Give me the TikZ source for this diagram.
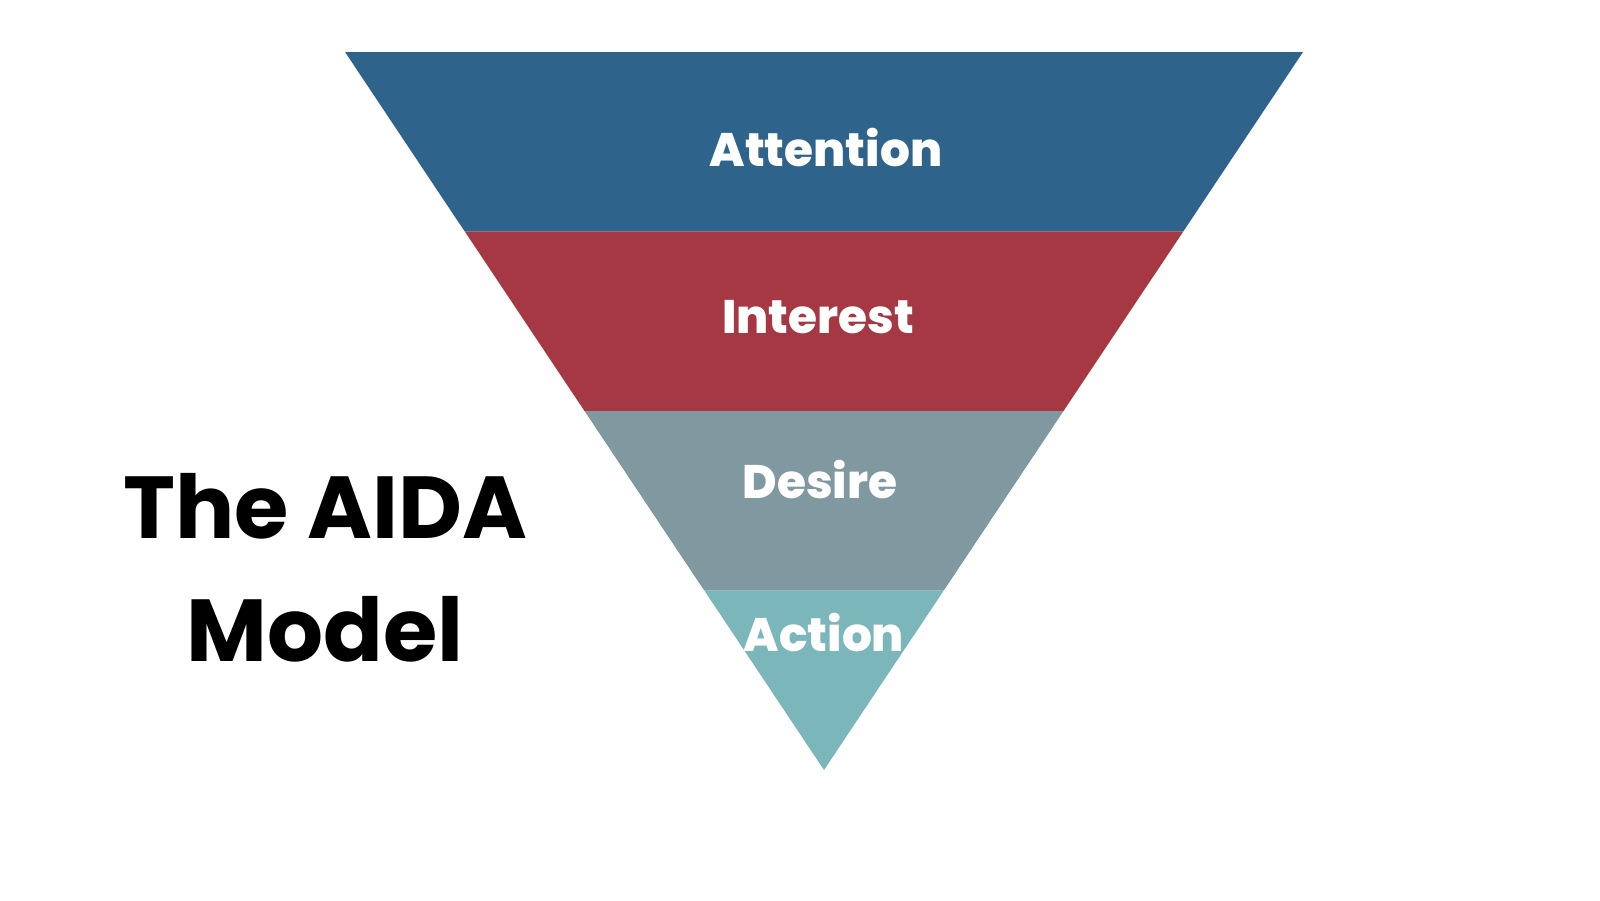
\documentclass[tikz,border=0pt]{standalone}
\usepackage{fontspec}
\setmainfont{Poppins}
\newfontfamily\stagefam{Poppins}[UprightFont=* ExtraBold]
\usetikzlibrary{calc}
\definecolor{attncol}{RGB}{46,100,140}
\definecolor{intcol}{RGB}{166,56,67}
\definecolor{descol}{RGB}{128,152,160}
\definecolor{actcol}{RGB}{123,182,186}
\newcommand{\stagefont}{\stagefam\fontsize{47}{56}\selectfont}
\newcommand{\titlefont}{\fontsize{88}{106}\selectfont\bfseries}

\begin{document}
\begin{tikzpicture}[x=1pt,y=-1pt,
  stage/.style={text=white,font=\stagefont,anchor=base,inner sep=0pt},
  heading/.style={text=black,font=\titlefont,anchor=base,inner sep=0pt}]
\useasboundingbox (0,0) rectangle (1600,900);
% funnel corners
\coordinate (tl) at (345,52);
\coordinate (tr) at (1303,52);
\coordinate (apex) at (824,770);
\foreach \i in {1,2,3}{
  \coordinate (l\i) at ($(tl)!\i/4!(apex)$);
  \coordinate (r\i) at ($(tr)!\i/4!(apex)$);
}
\fill[attncol] (tl)--(tr)--(r1)--(l1)--cycle;
\fill[intcol] (l1)--(r1)--(r2)--(l2)--cycle;
\fill[descol] (l2)--(r2)--(r3)--(l3)--cycle;
\fill[actcol] (l3)--(r3)--(apex)--cycle;
% stage labels
\node[stage] (attention) at (826,166) {Attention};
\node[stage] (interest) at (818,333) {Interest};
\node[stage] (desire) at (820,498) {Desire};
\node[stage] (action) at (824,651) {Action};
% title
\node[heading] (title) at (325,538) {The AIDA};
\node[heading] (model) at (325,661) {Model};
\end{tikzpicture}
\end{document}
